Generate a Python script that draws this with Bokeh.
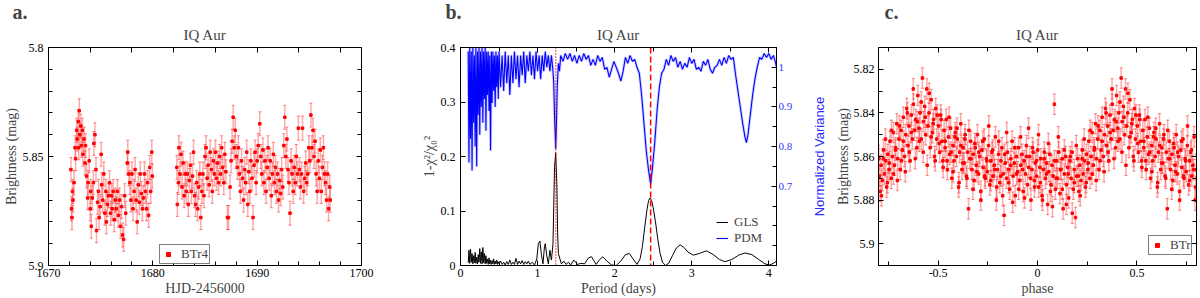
import numpy as np
from bokeh.plotting import figure
from bokeh.layouts import row
from bokeh.models import (Range1d, LinearAxis, FixedTicker, PrintfTickFormatter,
                          CustomJSTickFormatter, Title, Span, Legend, LegendItem)
from bokeh.embed import file_html
from bokeh.resources import INLINE

SERIF = "Liberation Serif"
SANS = "Liberation Sans"

# ---------------- Panel a: light curve (BTr4) ----------------
HJD_A = [
    1672.15, 1672.20, 1672.25, 1672.30, 1672.35, 1672.45, 1672.55, 1672.60, 1672.70, 1672.75,
    1672.85, 1672.90, 1672.95, 1673.00, 1673.10, 1673.15, 1673.25, 1673.30, 1673.40, 1673.50,
    1673.55, 1673.65, 1673.75, 1673.80, 1673.90, 1674.00, 1674.05, 1674.10, 1674.20, 1674.30,
    1674.35, 1674.45, 1674.55, 1674.60, 1674.70, 1674.80, 1674.85, 1674.95, 1675.05, 1675.10,
    1675.20, 1675.30, 1675.40, 1675.50, 1675.55, 1675.65, 1675.75, 1675.85, 1675.95, 1676.05,
    1676.10, 1676.20, 1676.30, 1676.40, 1676.50, 1676.60, 1676.70, 1676.80, 1676.90, 1677.00,
    1677.10, 1677.20, 1677.30, 1677.40, 1677.55, 1677.60, 1677.70, 1677.80, 1677.90, 1678.00,
    1678.10, 1678.20, 1678.30, 1678.40, 1678.50, 1678.60, 1678.70, 1678.80, 1678.90, 1679.00,
    1679.10, 1679.20, 1679.30, 1679.40, 1679.50, 1679.60, 1679.70, 1679.80, 1679.90, 1679.95,
    1682.30, 1682.35, 1682.45, 1682.50, 1682.60, 1682.70, 1682.80, 1682.90, 1683.00, 1683.10,
    1683.20, 1683.30, 1683.40, 1683.50, 1683.60, 1683.70, 1683.80, 1683.90, 1684.00, 1684.10,
    1684.20, 1684.30, 1684.40, 1684.50, 1684.60, 1684.70, 1684.80, 1684.90, 1685.00, 1685.10,
    1685.20, 1685.30, 1685.40, 1685.50, 1685.60, 1685.70, 1685.80, 1685.90, 1686.00, 1686.10,
    1686.20, 1686.30, 1686.40, 1686.50, 1686.60, 1686.70, 1686.80, 1686.90, 1687.00, 1687.15,
    1687.25, 1687.40, 1687.50, 1687.60, 1687.70, 1687.80, 1687.90, 1688.00, 1688.10, 1688.20,
    1688.30, 1688.40, 1688.50, 1688.60, 1688.70, 1688.80, 1688.90, 1689.00, 1689.10, 1689.20,
    1689.30, 1689.40, 1689.50, 1689.60, 1689.70, 1689.80, 1689.90, 1690.00, 1690.10, 1690.25,
    1690.35, 1690.45, 1690.55, 1690.65, 1690.75, 1690.85, 1690.95, 1691.05, 1691.15, 1691.25,
    1691.35, 1691.45, 1691.55, 1691.65, 1691.75, 1691.85, 1691.95, 1692.05, 1692.15, 1692.25,
    1692.35, 1692.45, 1692.55, 1692.65, 1692.75, 1692.85, 1692.95, 1693.05, 1693.15, 1693.25,
    1693.35, 1693.45, 1693.55, 1693.65, 1693.75, 1693.85, 1693.95, 1694.05, 1694.15, 1694.25,
    1694.35, 1694.45, 1694.55, 1694.65, 1694.75, 1694.85, 1694.95, 1695.05, 1695.15, 1695.25,
    1695.35, 1695.45, 1695.55, 1695.65, 1695.75, 1695.85, 1695.95, 1696.05, 1696.15, 1696.25,
    1696.35, 1696.45, 1696.55, 1696.65, 1696.75, 1696.85, 1696.95, 1697.00,
]
MAG_A = [
    5.856, 5.874, 5.878, 5.866, 5.870, 5.862, 5.846, 5.851, 5.838, 5.842,
    5.834, 5.846, 5.829, 5.840, 5.836, 5.845, 5.838, 5.849, 5.842, 5.853,
    5.845, 5.859, 5.869, 5.862, 5.852, 5.874, 5.866, 5.882, 5.869, 5.862,
    5.844, 5.840, 5.856, 5.884, 5.871, 5.866, 5.878, 5.873, 5.849, 5.863,
    5.870, 5.858, 5.876, 5.866, 5.880, 5.872, 5.868, 5.862, 5.876, 5.868,
    5.874, 5.866, 5.879, 5.870, 5.874, 5.866, 5.877, 5.870, 5.882, 5.873,
    5.886, 5.888, 5.868, 5.876, 5.853, 5.848, 5.858, 5.862, 5.870, 5.858,
    5.874, 5.866, 5.856, 5.870, 5.880, 5.863, 5.871, 5.858, 5.867, 5.874,
    5.869, 5.858, 5.866, 5.874, 5.862, 5.877, 5.855, 5.866, 5.848, 5.859,
    5.855, 5.872, 5.862, 5.846, 5.858, 5.849, 5.864, 5.853, 5.868, 5.858,
    5.866, 5.858, 5.872, 5.861, 5.854, 5.866, 5.859, 5.848, 5.868, 5.872,
    5.862, 5.874, 5.864, 5.858, 5.878, 5.866, 5.858, 5.868, 5.850, 5.846,
    5.860, 5.854, 5.863, 5.848, 5.856, 5.866, 5.852, 5.858, 5.848, 5.860,
    5.853, 5.862, 5.850, 5.858, 5.846, 5.855, 5.862, 5.849, 5.857, 5.878,
    5.878, 5.864, 5.852, 5.843, 5.832, 5.846, 5.838, 5.850, 5.855, 5.846,
    5.858, 5.866, 5.852, 5.860, 5.870, 5.856, 5.862, 5.848, 5.872, 5.857,
    5.866, 5.852, 5.860, 5.878, 5.854, 5.848, 5.862, 5.852, 5.845, 5.835,
    5.850, 5.858, 5.847, 5.862, 5.852, 5.866, 5.855, 5.846, 5.860, 5.852,
    5.868, 5.858, 5.849, 5.862, 5.855, 5.866, 5.858, 5.870, 5.861, 5.867,
    5.856, 5.864, 5.845, 5.832, 5.850, 5.842, 5.856, 5.862, 5.876, 5.852,
    5.858, 5.866, 5.855, 5.862, 5.850, 5.858, 5.837, 5.856, 5.864, 5.858,
    5.837, 5.866, 5.860, 5.853, 5.862, 5.858, 5.846, 5.852, 5.831, 5.846,
    5.838, 5.850, 5.843, 5.858, 5.866, 5.852, 5.860, 5.847, 5.866, 5.855,
    5.846, 5.858, 5.862, 5.870, 5.858, 5.874, 5.864, 5.870,
]
ERR_A = 0.0055

# ---------------- Panel b: periodograms ----------------
P_GLS = [
    0.10, 0.11, 0.12, 0.13, 0.14, 0.15, 0.16, 0.17, 0.18, 0.19,
    0.20, 0.21, 0.22, 0.23, 0.24, 0.25, 0.26, 0.27, 0.28, 0.29,
    0.30, 0.31, 0.32, 0.33, 0.34, 0.35, 0.36, 0.37, 0.38, 0.39,
    0.40, 0.41, 0.42, 0.43, 0.44, 0.45, 0.46, 0.47, 0.48, 0.49,
    0.50, 0.52, 0.54, 0.56, 0.58, 0.60, 0.62, 0.64, 0.66, 0.68,
    0.70, 0.72, 0.74, 0.76, 0.78, 0.80, 0.82, 0.84, 0.86, 0.88,
    0.90, 0.93, 0.96, 0.99, 1.01, 1.03, 1.05, 1.07, 1.09, 1.10,
    1.12, 1.14, 1.16, 1.18, 1.20, 1.21, 1.22, 1.235, 1.25, 1.26,
    1.27, 1.29, 1.31, 1.34, 1.37, 1.40, 1.43, 1.47, 1.52, 1.56,
    1.61, 1.66, 1.70, 1.76, 1.80, 1.845, 1.90, 1.96, 2.02, 2.08,
    2.14, 2.19, 2.24, 2.29, 2.33, 2.36, 2.39, 2.42, 2.44, 2.46,
    2.48, 2.50, 2.53, 2.56, 2.59, 2.62, 2.66, 2.70, 2.75, 2.80,
    2.85, 2.90, 2.95, 3.02, 3.10, 3.19, 3.28, 3.36, 3.43, 3.52,
    3.61, 3.69, 3.78, 3.87, 3.95, 4.01, 4.06, 4.10,
]
GLS = [
    0.005, 0.028, 0.004, 0.030, 0.006, 0.022, 0.003, 0.018, 0.005, 0.024,
    0.004, 0.015, 0.003, 0.020, 0.006, 0.031, 0.004, 0.025, 0.003, 0.033,
    0.005, 0.022, 0.003, 0.018, 0.004, 0.012, 0.002, 0.014, 0.003, 0.010,
    0.002, 0.009, 0.003, 0.012, 0.002, 0.008, 0.003, 0.010, 0.002, 0.007,
    0.003, 0.008, 0.002, 0.006, 0.001, 0.007, 0.002, 0.010, 0.002, 0.006,
    0.002, 0.013, 0.002, 0.008, 0.003, 0.009, 0.002, 0.007, 0.003, 0.008,
    0.002, 0.006, 0.001, 0.012, 0.040, 0.045, 0.020, 0.003, 0.035, 0.040,
    0.018, 0.003, 0.028, 0.010, 0.040, 0.110, 0.180, 0.207, 0.150, 0.060,
    0.022, 0.012, 0.003, 0.008, 0.002, 0.006, 0.001, 0.010, 0.002, 0.004,
    0.003, 0.014, 0.016, 0.002, 0.010, 0.016, 0.008, 0.001, 0.000, 0.008,
    0.020, 0.022, 0.012, 0.002, 0.012, 0.035, 0.070, 0.103, 0.119, 0.124,
    0.119, 0.106, 0.080, 0.048, 0.022, 0.006, 0.000, 0.004, 0.018, 0.032,
    0.038, 0.033, 0.025, 0.019, 0.022, 0.027, 0.020, 0.011, 0.007, 0.011,
    0.019, 0.023, 0.020, 0.011, 0.003, 0.001, 0.004, 0.008,
]
P_PDM = [
    0.10, 0.11, 0.12, 0.13, 0.14, 0.15, 0.16, 0.17, 0.18, 0.19,
    0.20, 0.21, 0.22, 0.23, 0.24, 0.25, 0.26, 0.27, 0.28, 0.29,
    0.30, 0.31, 0.32, 0.33, 0.34, 0.35, 0.36, 0.37, 0.38, 0.39,
    0.40, 0.41, 0.42, 0.43, 0.44, 0.45, 0.46, 0.47, 0.48, 0.49,
    0.50, 0.52, 0.54, 0.56, 0.58, 0.60, 0.62, 0.64, 0.66, 0.68,
    0.70, 0.72, 0.74, 0.76, 0.78, 0.80, 0.82, 0.84, 0.86, 0.88,
    0.90, 0.92, 0.94, 0.96, 0.98, 1.00, 1.02, 1.04, 1.06, 1.08,
    1.10, 1.12, 1.14, 1.16, 1.18, 1.20, 1.21, 1.22, 1.235, 1.245,
    1.255, 1.27, 1.285, 1.30, 1.33, 1.36, 1.39, 1.42, 1.45, 1.48,
    1.51, 1.54, 1.57, 1.60, 1.63, 1.66, 1.69, 1.72, 1.75, 1.78,
    1.81, 1.84, 1.87, 1.90, 1.93, 1.96, 1.99, 2.02, 2.05, 2.08,
    2.11, 2.14, 2.17, 2.20, 2.23, 2.26, 2.29, 2.32, 2.35, 2.38,
    2.41, 2.44, 2.467, 2.49, 2.52, 2.55, 2.58, 2.61, 2.64, 2.67,
    2.70, 2.73, 2.76, 2.79, 2.82, 2.85, 2.88, 2.91, 2.94, 2.97,
    3.00, 3.03, 3.06, 3.09, 3.12, 3.15, 3.18, 3.21, 3.24, 3.27,
    3.30, 3.33, 3.36, 3.39, 3.42, 3.45, 3.48, 3.51, 3.54, 3.57,
    3.60, 3.63, 3.66, 3.69, 3.71, 3.73, 3.76, 3.79, 3.82, 3.85,
    3.88, 3.91, 3.94, 3.97, 4.00, 4.03, 4.06, 4.09, 4.10,
]
PDM = [
    1.04, 0.76, 1.05, 0.82, 1.04, 0.74, 1.05, 0.86, 1.03, 0.80,
    1.05, 0.75, 1.04, 0.88, 1.05, 0.83, 1.04, 0.90, 1.05, 0.86,
    1.04, 0.92, 1.05, 0.84, 1.04, 0.93, 1.04, 0.89, 1.03, 0.79,
    1.04, 0.91, 1.04, 0.94, 1.03, 0.90, 1.04, 0.95, 1.03, 0.92,
    1.04, 0.95, 1.03, 0.94, 1.04, 0.96, 1.03, 0.93, 1.03, 0.96,
    1.04, 0.97, 1.03, 0.95, 1.03, 0.98, 1.04, 0.96, 1.03, 0.99,
    1.04, 0.98, 1.03, 0.97, 1.04, 0.99, 1.03, 0.97, 1.03, 0.99,
    1.04, 1.00, 1.03, 0.99, 1.03, 0.99, 0.96, 0.88, 0.794, 0.86,
    0.95, 1.01, 0.99, 1.03, 1.015, 1.035, 1.02, 1.035, 1.015, 1.03,
    1.01, 1.03, 1.015, 1.035, 1.02, 1.03, 1.005, 1.02, 1.005, 1.03,
    1.015, 1.025, 0.995, 1.00, 0.975, 0.995, 1.015, 1.00, 0.985, 0.965,
    0.99, 1.025, 1.01, 1.03, 1.015, 1.02, 1.00, 0.985, 0.93, 0.86,
    0.79, 0.74, 0.705, 0.745, 0.81, 0.89, 0.95, 0.985, 0.995, 1.02,
    1.005, 1.03, 1.015, 1.025, 1.00, 1.015, 0.995, 1.01, 1.00, 1.025,
    1.01, 1.02, 0.995, 1.00, 0.99, 1.015, 1.005, 1.02, 0.995, 0.985,
    1.00, 1.005, 1.02, 1.005, 1.025, 1.01, 1.03, 1.02, 1.025, 0.98,
    0.94, 0.90, 0.86, 0.825, 0.81, 0.83, 0.88, 0.93, 0.97, 1.00,
    1.025, 1.02, 1.035, 1.025, 1.035, 1.02, 1.03, 1.01, 1.00,
]
P_MAIN = 2.467   # dashed marker (days)
P_HALF = 1.235   # dotted marker (days)

# ---------------- Panel c: phased light curve (BTr), one cycle ----------------
PHASE_C = [
    -0.498, -0.492, -0.487, -0.481, -0.476, -0.470, -0.465, -0.459, -0.453, -0.448,
    -0.442, -0.437, -0.431, -0.425, -0.420, -0.414, -0.408, -0.403, -0.397, -0.392,
    -0.386, -0.380, -0.375, -0.369, -0.364, -0.358, -0.352, -0.347, -0.341, -0.336,
    -0.330, -0.324, -0.319, -0.313, -0.308, -0.302, -0.296, -0.291, -0.285, -0.280,
    -0.274, -0.268, -0.263, -0.257, -0.252, -0.246, -0.240, -0.235, -0.229, -0.224,
    -0.218, -0.212, -0.207, -0.201, -0.196, -0.190, -0.184, -0.179, -0.173, -0.168,
    -0.162, -0.156, -0.151, -0.145, -0.140, -0.134, -0.128, -0.123, -0.117, -0.112,
    -0.106, -0.100, -0.095, -0.089, -0.084, -0.078, -0.072, -0.067, -0.061, -0.056,
    -0.050, -0.044, -0.039, -0.033, -0.028, -0.022, -0.016, -0.011, -0.005, 0.001,
    0.006, 0.012, 0.017, 0.023, 0.029, 0.034, 0.040, 0.045, 0.051, 0.057,
    0.062, 0.068, 0.073, 0.079, 0.085, 0.090, 0.096, 0.101, 0.107, 0.113,
    0.118, 0.124, 0.129, 0.135, 0.141, 0.146, 0.152, 0.157, 0.163, 0.169,
    0.174, 0.180, 0.185, 0.191, 0.197, 0.202, 0.208, 0.213, 0.219, 0.225,
    0.230, 0.236, 0.241, 0.247, 0.253, 0.258, 0.264, 0.269, 0.275, 0.281,
    0.286, 0.292, 0.297, 0.303, 0.309, 0.314, 0.320, 0.325, 0.331, 0.337,
    0.342, 0.348, 0.353, 0.359, 0.365, 0.370, 0.376, 0.381, 0.387, 0.393,
    0.398, 0.404, 0.409, 0.415, 0.421, 0.426, 0.432, 0.437, 0.443, 0.449,
    0.454, 0.460, 0.465, 0.471, 0.477, 0.482, 0.488, 0.493,
    -0.495, -0.485, -0.475, -0.465, -0.455, -0.445, -0.435, -0.425, -0.415, -0.405,
    -0.395, -0.385, -0.375, -0.365, -0.355, -0.345, -0.335, -0.325, -0.315, -0.305,
    -0.295, -0.285, -0.275, -0.265, -0.255, -0.245, -0.235, -0.225, -0.215, -0.205,
    -0.195, -0.185, -0.175, -0.165, -0.155, -0.145, -0.135, -0.125, -0.115, -0.105,
    -0.095, -0.085, -0.075, -0.065, -0.055, -0.045, -0.035, -0.025, -0.015, -0.005,
    0.005, 0.015, 0.025, 0.035, 0.045, 0.055, 0.065, 0.075, 0.085, 0.095,
    0.105, 0.115, 0.125, 0.135, 0.145, 0.155, 0.165, 0.175, 0.185, 0.195,
    0.205, 0.215, 0.225, 0.235, 0.245, 0.255, 0.265, 0.275, 0.285, 0.295,
    0.305, 0.315, 0.325, 0.335, 0.345, 0.355, 0.365, 0.375, 0.385, 0.395,
    0.405, 0.415, 0.425, 0.435, 0.445, 0.455, 0.465, 0.475, 0.485, 0.495,
]
MAG_C = [
    5.846, 5.858, 5.841, 5.853, 5.862, 5.848, 5.856, 5.843, 5.866, 5.851,
    5.859, 5.847, 5.870, 5.855, 5.862, 5.849, 5.860, 5.852, 5.874, 5.858,
    5.845, 5.866, 5.856, 5.863, 5.850, 5.869, 5.858, 5.884, 5.861, 5.853,
    5.866, 5.859, 5.871, 5.856, 5.864, 5.850, 5.868, 5.860, 5.876, 5.857,
    5.865, 5.852, 5.870, 5.861, 5.867, 5.855, 5.873, 5.862, 5.858, 5.869,
    5.864, 5.851, 5.880, 5.866, 5.859, 5.872, 5.862, 5.856, 5.868, 5.887,
    5.863, 5.870, 5.858, 5.866, 5.875, 5.861, 5.853, 5.869, 5.863, 5.878,
    5.860, 5.867, 5.856, 5.871, 5.864, 5.859, 5.876, 5.862, 5.868, 5.855,
    5.873, 5.865, 5.860, 5.880, 5.866, 5.858, 5.871, 5.863, 5.869, 5.857,
    5.874, 5.865, 5.861, 5.878, 5.866, 5.858, 5.870, 5.863, 5.882, 5.867,
    5.859, 5.873, 5.864, 5.869, 5.836, 5.875, 5.862, 5.870, 5.858, 5.877,
    5.866, 5.861, 5.884, 5.868, 5.860, 5.873, 5.865, 5.879, 5.862, 5.870,
    5.858, 5.875, 5.866, 5.888, 5.869, 5.861, 5.876, 5.864, 5.871, 5.857,
    5.868, 5.862, 5.874, 5.859, 5.866, 5.853, 5.870, 5.860, 5.849, 5.864,
    5.856, 5.845, 5.861, 5.852, 5.866, 5.848, 5.857, 5.842, 5.860, 5.850,
    5.838, 5.855, 5.846, 5.862, 5.841, 5.852, 5.836, 5.848, 5.843, 5.856,
    5.832, 5.847, 5.840, 5.852, 5.824, 5.844, 5.837, 5.850, 5.829, 5.846,
    5.840, 5.856, 5.834, 5.849, 5.843, 5.860, 5.838, 5.852,
    5.854, 5.843, 5.865, 5.853, 5.862, 5.842, 5.858, 5.867, 5.851, 5.847,
    5.872, 5.855, 5.863, 5.852, 5.870, 5.848, 5.861, 5.875, 5.854, 5.867,
    5.858, 5.880, 5.853, 5.869, 5.862, 5.846, 5.871, 5.857, 5.866, 5.874,
    5.853, 5.869, 5.878, 5.859, 5.849, 5.872, 5.864, 5.881, 5.856, 5.868,
    5.875, 5.851, 5.866, 5.879, 5.860, 5.847, 5.870, 5.856, 5.874, 5.862,
    5.850, 5.872, 5.880, 5.861, 5.868, 5.854, 5.876, 5.883, 5.862, 5.870,
    5.851, 5.866, 5.875, 5.857, 5.882, 5.868, 5.860, 5.886, 5.872, 5.855,
    5.869, 5.878, 5.861, 5.852, 5.872, 5.863, 5.848, 5.868, 5.857, 5.871,
    5.846, 5.862, 5.853, 5.867, 5.840, 5.858, 5.849, 5.829, 5.861, 5.844,
    5.853, 5.835, 5.858, 5.842, 5.864, 5.831, 5.851, 5.845, 5.862, 5.841,
]
ERR_C = 0.0047


# ---------------- helpers ----------------
def style_axis(ax, major, minor, labels=True, color="black", standoff=3, size="12px"):
    ax.ticker = FixedTicker(ticks=major, minor_ticks=minor)
    ax.major_tick_in = 5
    ax.major_tick_out = 0
    ax.minor_tick_in = 4
    ax.minor_tick_out = 0
    ax.axis_line_color = "black"
    ax.major_tick_line_color = "black"
    ax.minor_tick_line_color = "black"
    if labels:
        ax.formatter = PrintfTickFormatter(format="%g")
        ax.major_label_text_font = SERIF
        ax.major_label_text_font_size = size
        ax.major_label_text_color = color
        ax.major_label_standoff = standoff
    else:
        ax.formatter = CustomJSTickFormatter(code="return ''")
        ax.major_label_standoff = 0
        ax.major_label_text_font_size = "1px"
    ax.axis_label_text_font = SERIF
    ax.axis_label_text_font_size = "14px"
    ax.axis_label_text_font_style = "normal"
    ax.axis_label_standoff = 1


def make_fig(width, xr, yr, bl, br, letter, offset):
    p = figure(width=width, height=298, x_range=xr, y_range=yr, title=None,
               output_backend="svg", toolbar_location=None,
               min_border_left=bl, min_border_right=br,
               min_border_top=47, min_border_bottom=30)
    p.xgrid.visible = False
    p.ygrid.visible = False
    p.outline_line_color = "black"
    bottom = p.below[0]
    left = p.left[0]
    top = LinearAxis()
    p.add_layout(top, "above")
    p.add_layout(Title(text="IQ Aur", align="center", text_font=SERIF,
                       text_font_size="15px", text_font_style="normal",
                       standoff=9), "above")
    p.add_layout(Title(text=letter, align="left", offset=offset, text_font=SERIF,
                       text_font_size="20px", text_font_style="bold",
                       standoff=-4), "above")
    return p, bottom, left, top


def err_points(p, x, y, e):
    x = np.asarray(x, dtype=float)
    y = np.asarray(y, dtype=float)
    p.segment(x0=x, y0=y - e, x1=x, y1=y + e, line_color="#ff4444",
              line_alpha=0.45, line_width=1.5)
    p.scatter(np.concatenate([x, x]), np.concatenate([y - e, y + e]),
              marker="dash", size=3, line_color="#ff3333", line_alpha=0.6)
    return p.scatter(x, y, marker="square", size=2.5, fill_color="#ff0000",
                     line_color="#ff0000")


def box_legend(p, label, r, loc):
    lg = Legend(items=[LegendItem(label=label, renderers=[r])], location=loc)
    lg.border_line_color = "black"
    lg.border_line_width = 1
    lg.background_fill_color = "white"
    lg.label_text_font = SERIF
    lg.label_text_font_size = "13px"
    lg.glyph_width = 14
    lg.glyph_height = 10
    lg.label_height = 10
    lg.padding = 1
    lg.margin = 0
    lg.spacing = 0
    lg.label_standoff = 6
    p.add_layout(lg)


MIN_A = [5.81, 5.82, 5.83, 5.84, 5.86, 5.87, 5.88, 5.89]
MIN_C = [5.81, 5.83, 5.85, 5.87, 5.89]

# ---------------- Panel a ----------------
pa, ba, la, ta = make_fig(405, Range1d(1670, 1700), Range1d(5.9, 5.8), 43, 44, "a.", -36)
style_axis(ba, [1670, 1680, 1690, 1700], list(range(1672, 1700, 2)))
style_axis(la, [5.8, 5.85, 5.9], MIN_A, standoff=5)
ba.axis_label = "HJD-2456000"
la.axis_label = "Brightness (mag)"
style_axis(ta, list(range(1670, 1701, 4)), [], labels=False)
ra = LinearAxis()
pa.add_layout(ra, "right")
style_axis(ra, [5.8, 5.85, 5.9], MIN_A, labels=False)
r_a = err_points(pa, HJD_A, MAG_A, ERR_A)
box_legend(pa, "BTr4", r_a, (111, 1))

# ---------------- Panel b ----------------
pb, bb, lb, tb = make_fig(390, Range1d(0, 4.1), Range1d(0, 0.4), 55, 16, "b.", -15)
pb.extra_y_ranges = {"pdm": Range1d(0.5, 1.05)}
style_axis(bb, [0, 1, 2, 3, 4], [0.5, 1.5, 2.5, 3.5])
style_axis(lb, [0, 0.1, 0.2, 0.3, 0.4], [], standoff=5)
bb.axis_label = "Period (days)"
lb.axis_label = "1-\u03c7\u00b2/\u03c7\u2080\u00b2"
style_axis(tb, [0, 1, 2, 3, 4], [0.5, 1.5, 2.5, 3.5], labels=False)
rb = LinearAxis(y_range_name="pdm")
pb.add_layout(rb, "right")
style_axis(rb, [0.7, 0.8, 0.9, 1.0],
           [0.5, 0.55, 0.6, 0.65, 0.75, 0.85, 0.95, 1.05], color="#3535ff",
           standoff=2, size="11px")

pb.line(P_PDM, PDM, y_range_name="pdm", line_color="#8080ff", line_width=3, line_alpha=0.35)
r_pdm = pb.line(P_PDM, PDM, y_range_name="pdm", line_color="#0000ff", line_width=1.1)
r_gls = pb.line(P_GLS, GLS, line_color="black", line_width=1)
pb.add_layout(Span(location=P_HALF, dimension="height", line_color="red",
                   line_dash="1 2", line_width=1.5))
pb.add_layout(Span(location=P_MAIN, dimension="height", line_color="red",
                   line_dash="6 3", line_width=1.5))
lgb = Legend(items=[LegendItem(label="GLS", renderers=[r_gls]),
                    LegendItem(label="PDM", renderers=[r_pdm])], location=(256, 19))
lgb.border_line_alpha = 0
lgb.background_fill_alpha = 0
lgb.label_text_font = SERIF
lgb.label_text_font_size = "13px"
lgb.glyph_width = 12
lgb.glyph_height = 10
lgb.label_height = 10
lgb.padding = 0
lgb.margin = 0
lgb.spacing = 0
lgb.label_standoff = 6
pb.add_layout(lgb)

# ---------------- Panel c ----------------
pc, bc, lc, tc = make_fig(405, Range1d(-0.8, 0.8), Range1d(5.91, 5.81), 83, 4, "c.", 6)
style_axis(bc, [-0.5, 0, 0.5], [-0.75, -0.25, 0.25, 0.75])
style_axis(lc, [5.82, 5.84, 5.86, 5.88, 5.9], MIN_C, standoff=4)
lc.axis_label_standoff = 0
bc.axis_label = "phase"
lc.axis_label = "Brightness (mag)"
style_axis(tc, [-0.5, 0, 0.5], [-0.75, -0.25, 0.25, 0.75], labels=False)
rc = LinearAxis()
pc.add_layout(rc, "right")
style_axis(rc, [5.82, 5.84, 5.86, 5.88, 5.9], MIN_C, labels=False)
# right-hand axis title of panel b, drawn in the gutter (reads bottom-to-top)
pc.add_layout(Title(text="Normalized Variance", align="center", text_font=SANS,
                    text_font_size="13px", text_font_style="normal",
                    text_color="#2b2bff", standoff=12), "left")
ph = np.asarray(PHASE_C)
mg = np.asarray(MAG_C)
r_c = err_points(pc, np.concatenate([ph - 1, ph, ph + 1]),
                 np.concatenate([mg, mg, mg]), ERR_C)
box_legend(pc, "BTr", r_c, (270, 10))

layout = row(pa, pb, pc)
open("out.html", "w").write(file_html(layout, INLINE))
